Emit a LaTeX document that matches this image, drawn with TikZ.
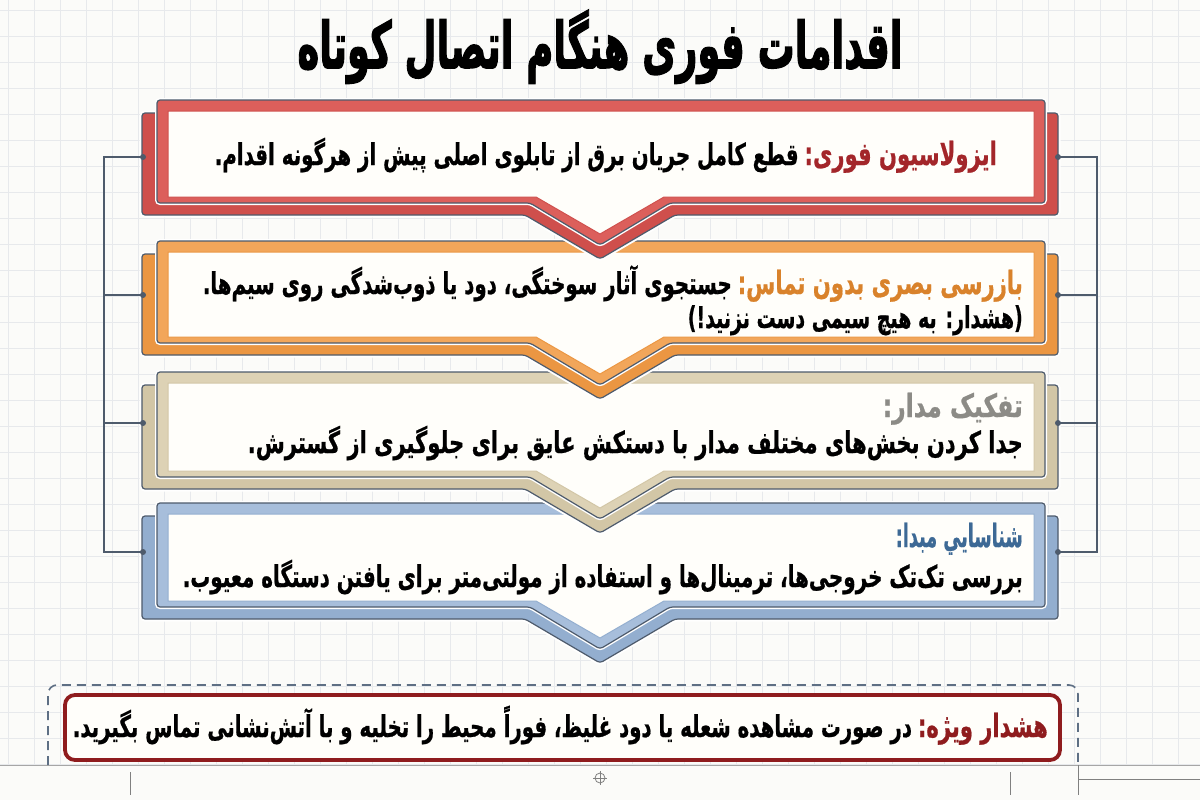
\documentclass[tikz,border=0pt]{standalone}
\usepackage{fontspec}
\newfontfamily\fb[Script=Arabic, UprightFont=* Bold, FakeBold=0.8]{DejaVu Sans}
\newfontfamily\ftitle[Script=Arabic, UprightFont=* Bold, FakeBold=2.4]{DejaVu Sans}
\TeXXeTstate=1
\definecolor{bgc}{HTML}{FBFBF9}
\definecolor{gridc}{HTML}{E7E9EC}
\definecolor{outl}{HTML}{4E5B6C}
\definecolor{paper}{HTML}{FFFEFA}
\definecolor{redF}{HTML}{DC5F5B}
\definecolor{redB}{HTML}{CF4F4C}
\definecolor{orangeF}{HTML}{F2A65A}
\definecolor{orangeB}{HTML}{EB9642}
\definecolor{beigeF}{HTML}{DDD2B5}
\definecolor{beigeB}{HTML}{D2C6A6}
\definecolor{blueF}{HTML}{A7BEDB}
\definecolor{blueB}{HTML}{93AECF}
\definecolor{redT}{HTML}{A3262A}
\definecolor{orangeT}{HTML}{D9822B}
\definecolor{grayT}{HTML}{8C8B86}
\definecolor{blueT}{HTML}{3D6995}
\definecolor{warnR}{HTML}{8F1C1E}
\definecolor{dashc}{HTML}{5E6F84}
% line with coloured label at the right: width, label colour, label, body
\newcommand\fline[4]{\resizebox{#1pt}{\height}{#4\hspace{0.3em}{\color{#2}\fontsize{32}{35}\selectfont #3}}}
\newcommand\fsingle[2]{\resizebox{#1pt}{\height}{#2}}
\tikzset{
  txt/.style={inner sep=0pt, anchor=base east, font=\fb\fontsize{30}{33}\selectfont},
  link/.style={draw=outl, line width=1.3},
  dotc/.style={fill=outl, circle, inner sep=0pt, minimum size=6pt},
}
\begin{document}
\begin{tikzpicture}[x=1pt,y=-1pt]
\useasboundingbox (0,0) rectangle (1200,800);
\fill[bgc] (0,0) rectangle (1200,800);
\foreach \x in {8,34,...,1200} \draw[gridc, line width=0.8] (\x,0) -- (\x,765);
\foreach \y in {10,36,...,765} \draw[gridc, line width=0.8] (0,\y) -- (1200,\y);
% title
\node[inner sep=0pt, anchor=base] (title) at (600,68) {\resizebox{605pt}{\height}{\ftitle\fontsize{64}{70}\selectfont\beginR اقدامات فوری هنگام اتصال کوتاه\endR}};
% boxes
\foreach \T/\B/\fc/\bc in {503/607/blueF/blueB, 372/477/beigeF/beigeB, 241/343/orangeF/orangeB, 100/203/redF/redB}{
  \draw[white, line width=5, rounded corners=3] (142,\T+13) -- (1058,\T+13) -- (1058,\B+12) -- (675,\B+12) -- (600,\B+56) -- (525,\B+12) -- (142,\B+12) -- cycle;
  \filldraw[fill=\bc, draw=outl, line width=1.2, rounded corners=3] (142,\T+13) -- (1058,\T+13) -- (1058,\B+12) -- (675,\B+12) -- (600,\B+56) -- (525,\B+12) -- (142,\B+12) -- cycle;
  \draw[white, line width=4, rounded corners=3] (157,\T) -- (1045,\T) -- (1045,\B) -- (670,\B) -- (600,\B+42) -- (530,\B) -- (157,\B) -- cycle;
  \filldraw[fill=\fc, draw=outl, line width=1.2, rounded corners=3] (157,\T) -- (1045,\T) -- (1045,\B) -- (670,\B) -- (600,\B+42) -- (530,\B) -- (157,\B) -- cycle;
  \filldraw[fill=paper, draw=\bc, line width=1] (168,\T+11) -- (1034,\T+11) -- (1034,\B-6) -- (664,\B-6) -- (600,\B+31) -- (536,\B-6) -- (168,\B-6) -- cycle;
}
% connectors
\foreach \i/\y in {1/157, 2/295, 3/423, 4/552}{
  \coordinate (L\i) at (143,\y);
  \coordinate (R\i) at (1058,\y);
  \coordinate (LS\i) at (104,\y);
  \coordinate (RS\i) at (1097,\y);
}
\draw[link] (L1) -- (LS1) -- (LS4) -- (L4);
\draw[link] (L2) -- (LS2);
\draw[link] (L3) -- (LS3);
\draw[link] (R1) -- (RS1) -- (RS4) -- (R4);
\draw[link] (R2) -- (RS2);
\draw[link] (R3) -- (RS3);
\foreach \i in {1,2,3,4}{
  \node[dotc] (dl\i) at (L\i) {};
  \node[dotc] (dr\i) at (R\i) {};
}
% texts
\node[txt] (t1) at (997,165) {\fline{782}{redT}{\beginR ایزولاسیون فوری:\endR}{\beginR قطع کامل جریان برق از تابلوی اصلی پیش از هرگونه اقدام.\endR}};
\node[txt] (t2a) at (1023,294) {\fline{820}{orangeT}{\beginR بازرسی بصری بدون تماس:\endR}{\beginR جستجوی آثار سوختگی، دود یا ذوب‌شدگی روی سیم‌ها.\endR}};
\node[txt] (t2b) at (1023,328) {\fsingle{335}{\beginR (هشدار: به هیچ سیمی دست نزنید!)\endR}};
\node[txt] (t3a) at (1023,417) {\fontsize{32}{35}\selectfont\color{grayT}\fsingle{140}{\beginR تفکیک مدار:\endR}};
\node[txt] (t3b) at (1023,453) {\fsingle{775}{\beginR جدا کردن بخش‌های مختلف مدار با دستکش عایق برای جلوگیری از گسترش.\endR}};
\node[txt] (t4a) at (1023,547) {\fontsize{32}{35}\selectfont\color{blueT}\fsingle{127}{\beginR شناسايي مبدا:\endR}};
\node[txt] (t4b) at (1023,587) {\fsingle{840}{\beginR بررسی تک‌تک خروجی‌ها، ترمینال‌ها و استفاده از مولتی‌متر برای یافتن دستگاه معیوب.\endR}};
% bottom
\draw[gray!70, line width=1] (0,765) -- (1200,765);
\draw[dashc, line width=1.6, dash pattern=on 9pt off 6pt, rounded corners=9] (48,765) -- (48,685) -- (1078,685) -- (1078,765);
\draw[warnR, line width=3.8, fill=paper, rounded corners=10] (65,695) rectangle (1060,760);
\node[txt] (t5) at (1048,737) {\fline{975}{warnR}{\beginR هشدار ویژه:\endR}{\beginR در صورت مشاهده شعله یا دود غلیظ، فوراً محیط را تخلیه و با آتش‌نشانی تماس بگیرید.\endR}};
% ruler marks
\draw[gray, line width=0.9] (130,772) -- (130,795);
\draw[gray, line width=0.9] (1010,772) -- (1010,795);
\draw[gray, line width=0.9] (1078,765) -- (1078,795);
\draw[gray, line width=0.9] (1078,779) -- (1200,779);
\draw[gray, line width=0.8] (600,778) circle (5);
\draw[gray, line width=0.8] (593,778) -- (607,778) (600,771) -- (600,785);
\end{tikzpicture}
\end{document}
